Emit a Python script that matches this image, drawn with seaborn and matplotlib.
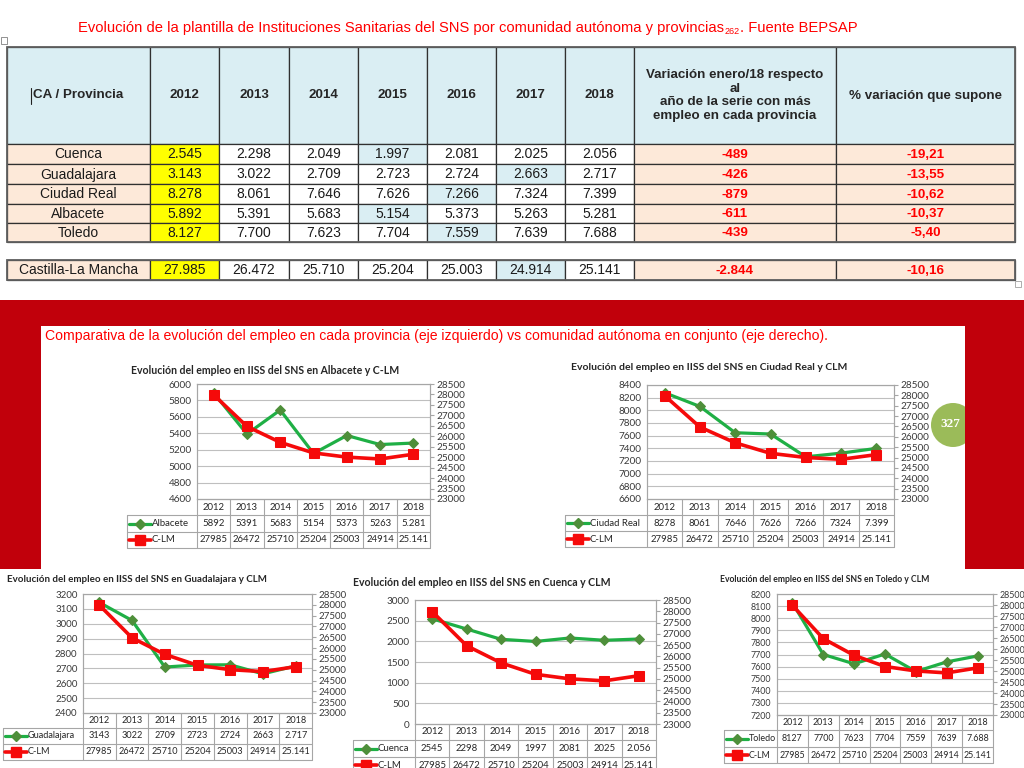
import numpy as np
import pandas as pd
import matplotlib
matplotlib.use("Agg")
import matplotlib.pyplot as plt
import seaborn as sns
from matplotlib.patches import Rectangle, Circle

# ---------------- data ----------------
years = [2012, 2013, 2014, 2015, 2016, 2017, 2018]
provinces = ["Cuenca", "Guadalajara", "Ciudad Real", "Albacete", "Toledo"]
cuenca = [2545, 2298, 2049, 1997, 2081, 2025, 2056]
guadalajara = [3143, 3022, 2709, 2723, 2724, 2663, 2717]
ciudad_real = [8278, 8061, 7646, 7626, 7266, 7324, 7399]
albacete = [5892, 5391, 5683, 5154, 5373, 5263, 5281]
toledo = [8127, 7700, 7623, 7704, 7559, 7639, 7688]
clm = [27985, 26472, 25710, 25204, 25003, 24914, 25141]
variacion = [-489, -426, -879, -611, -439]
pct_variacion = [-19.21, -13.55, -10.62, -10.37, -5.40]
clm_variacion = -2844
clm_pct = -10.16
clm_name = "Castilla-La Mancha"
clm_short = "C-LM"

title_main = "Evolución de la plantilla de Instituciones Sanitarias del SNS por comunidad autónoma y provincias"
title_sub = "262"
title_end = ". Fuente BEPSAP"
subtitle = ("Comparativa de la evolución del empleo en cada provincia (eje izquierdo) "
            "vs comunidad autónoma en conjunto (eje derecho).")
hdr_first = "CA / Provincia"
hdr_var = "Variación enero/18 respecto\nal\naño de la serie con más\nempleo en cada provincia"
hdr_pct = "% variación que supone"
page_no = "327"

# ---------------- style ----------------
sns.set_theme(style="white")
plt.rcParams["font.family"] = ["Liberation Sans", "DejaVu Sans"]
NARROW = ["Liberation Sans Narrow", "Liberation Sans", "DejaVu Sans"]
CAL = ["Lato", "DejaVu Sans"]

BLUE = "#DAEEF3"
PEACH = "#FDE9D9"
YELLOW = "#FFFF00"
RED_TXT = "#FF0000"
BAND = "#C1000B"
GREEN = "#1FAF45"
GREEN_M = "#4E8F3A"
RED = "#F50A0A"
GRID = "#BFBFBF"
TXT = "#262626"

W, H = 1024, 768
fig = plt.figure(figsize=(W / 100, H / 100), dpi=100)
fig.patch.set_facecolor("white")
bg = fig.add_axes([0, 0, 1, 1], zorder=0)
bg.set_xlim(0, W)
bg.set_ylim(H, 0)
bg.axis("off")


def rect(x0, y0, x1, y1, fc="none", ec="none", lw=0.8, z=1, **kw):
    bg.add_patch(Rectangle((x0, y0), x1 - x0, y1 - y0, facecolor=fc,
                           edgecolor=ec, linewidth=lw, zorder=z, **kw))


def miles(v):
    return f"{v:,}".replace(",", ".")


def pct(p):
    return f"{p:.2f}".replace(".", ",")


# ---------------- title ----------------
renderer = fig.canvas.get_renderer()
t1 = bg.text(78, 28, title_main, color=RED_TXT, fontsize=10.6, family=NARROW,
             ha="left", va="center")
ext = t1.get_window_extent(renderer)
t2 = bg.text(ext.x1 + 1, 31, title_sub, color=RED_TXT, fontsize=6.5, family=NARROW,
             ha="left", va="center")
ext2 = t2.get_window_extent(renderer)
bg.text(ext2.x1, 28, title_end, color=RED_TXT, fontsize=10.6, family=NARROW,
        ha="left", va="center")

# small handles
rect(1, 37, 7, 44, ec="#808080", lw=0.6, z=3)
rect(1015, 281, 1021, 287, ec="#A0A0A0", lw=0.6, z=3)

# ---------------- top table ----------------
col_x = [7, 150, 219, 289, 358, 427, 496, 565, 634, 836, 1015]
hdr_top, hdr_bot = 47, 144
row_edges = [144, 164, 184, 204, 223, 242]
clm_edges = [260, 280]
LINE = "#303030"

for j in range(len(col_x) - 1):
    rect(col_x[j], hdr_top, col_x[j + 1], hdr_bot, fc=BLUE, ec=LINE, lw=0.9, z=2)
hy = (hdr_top + hdr_bot) / 2
bg.text(33, hy, hdr_first, fontsize=9.6, fontweight="bold", ha="left", va="center", color=TXT, zorder=4)
bg.plot([31, 31], [hy - 8, hy + 8], color="#202020", lw=0.8, zorder=4)
for k, yr in enumerate(years):
    bg.text((col_x[k + 1] + col_x[k + 2]) / 2, hy, str(yr), fontsize=9.6, fontweight="bold",
            ha="center", va="center", color=TXT, zorder=4)
bg.text((col_x[8] + col_x[9]) / 2, hy, hdr_var, fontsize=9.6, fontweight="bold",
        ha="center", va="center", color=TXT, linespacing=1.15, zorder=4)
bg.text((col_x[9] + col_x[10]) / 2, hy, hdr_pct, fontsize=9.6, fontweight="bold",
        ha="center", va="center", color=TXT, zorder=4)


def table_row(y0, y1, name, vals, var, pv):
    yc = (y0 + y1) / 2 + 0.5
    imax, imin = int(np.argmax(vals)), int(np.argmin(vals))
    rect(col_x[0], y0, col_x[1], y1, fc=PEACH, ec=LINE, lw=0.9, z=2)
    bg.text((col_x[0] + col_x[1]) / 2, yc, name, fontsize=10, ha="center", va="center",
            color="#1a1a1a", zorder=4)
    for k, v in enumerate(vals):
        fc = YELLOW if k == imax else (BLUE if k == imin else "white")
        rect(col_x[k + 1], y0, col_x[k + 2], y1, fc=fc, ec=LINE, lw=0.9, z=2)
        bg.text((col_x[k + 1] + col_x[k + 2]) / 2, yc, miles(v), fontsize=10,
                ha="center", va="center", color="#1a1a1a", zorder=4)
    rect(col_x[8], y0, col_x[9], y1, fc=PEACH, ec=LINE, lw=0.9, z=2)
    rect(col_x[9], y0, col_x[10], y1, fc=PEACH, ec=LINE, lw=0.9, z=2)
    bg.text((col_x[8] + col_x[9]) / 2, yc, miles(var), fontsize=9.6, fontweight="bold",
            ha="center", va="center", color=RED_TXT, zorder=4)
    bg.text((col_x[9] + col_x[10]) / 2, yc, pct(pv), fontsize=9.6, fontweight="bold",
            ha="center", va="center", color=RED_TXT, zorder=4)


table_series = [cuenca, guadalajara, ciudad_real, albacete, toledo]
for i, (nm, vals) in enumerate(zip(provinces, table_series)):
    table_row(row_edges[i], row_edges[i + 1], nm, vals, variacion[i], pct_variacion[i])
table_row(clm_edges[0], clm_edges[1], clm_name, clm, clm_variacion, clm_pct)
rect(col_x[0], hdr_top, col_x[-1], row_edges[-1], ec="#606060", lw=1.3, z=3)
rect(col_x[0], clm_edges[0], col_x[-1], clm_edges[1], ec="#606060", lw=1.3, z=3)

# ---------------- red band ----------------
rect(0, 300, W, 569, fc=BAND, z=1)
rect(41, 326, 965, 569, fc="white", z=1.5)
bg.add_patch(Circle((953, 425), 22, facecolor="#9BBB59", edgecolor="none", zorder=1.7))
rect(965, 300, W, 569, fc=BAND, z=1.8)
bg.text(950, 424, page_no, fontsize=9.5, fontweight="bold", color="white",
        family=["Liberation Serif", "DejaVu Serif"], ha="center", va="center", zorder=1.9)
bg.text(45, 336, subtitle, color=RED_TXT, fontsize=10.05, family=NARROW,
        ha="left", va="center", zorder=3)

# ---------------- small charts ----------------
charts = [
    dict(name="Albacete", vals=albacete, title="Evolución del empleo en IISS del SNS en Albacete y C-LM",
         txy=(131, 370), tfs=7.6, box=(197, 384, 430, 499), leg=127, rows=(499, 515, 532, 548),
         ticks=(4600, 6000, 200), afs=7.2, cfs=6.9),
    dict(name="Ciudad Real", vals=ciudad_real, title="Evolución del empleo en IISS del SNS en Ciudad Real y CLM",
         txy=(571, 368), tfs=7.5, box=(647, 385, 894, 499), leg=565, rows=(499, 515, 531, 547),
         ticks=(6600, 8400, 200), afs=7.2, cfs=6.9),
    dict(name="Guadalajara", vals=guadalajara, title="Evolución del empleo en IISS del SNS en Guadalajara y CLM",
         txy=(7, 580), tfs=7.0, box=(83, 594, 312, 713), leg=3, rows=(713, 728, 744, 760),
         ticks=(2400, 3200, 100), afs=7.0, cfs=6.6),
    dict(name="Cuenca", vals=cuenca, title="Evolución del empleo en IISS del SNS en Cuenca y CLM",
         txy=(353, 583), tfs=7.6, box=(415, 600, 656, 724), leg=353, rows=(724, 740, 757, 773),
         ticks=(0, 3000, 500), afs=7.2, cfs=6.9),
    dict(name="Toledo", vals=toledo, title="Evolución del empleo en IISS del SNS en Toledo y CLM",
         txy=(720, 580), tfs=6.25, box=(777, 594, 993, 715), leg=724, rows=(715, 730, 747, 763),
         ticks=(7200, 8200, 100), afs=6.4, cfs=6.4),
]

for c in charts:
    l, t, r, b = c["box"]
    afs, cfs = c["afs"], c["cfs"]
    ax = fig.add_axes([l / W, 1 - b / H, (r - l) / W, (b - t) / H], zorder=2)
    ax.set_facecolor("white")
    lo, hi, st = c["ticks"]
    df_p = pd.DataFrame({"year": years, "val": c["vals"]})
    df_c = pd.DataFrame({"year": years, "val": clm})
    sns.lineplot(data=df_p, x="year", y="val", ax=ax, color=GREEN, lw=2.3, marker="D",
                 markersize=5, markerfacecolor=GREEN_M, markeredgecolor=GREEN_M, zorder=3)
    ax.set_xlim(2011.5, 2018.5)
    ax.set_ylim(lo, hi)
    ax.set_yticks(np.arange(lo, hi + st / 2, st))
    ax.set_xticks([])
    ax.set_xlabel("")
    ax.set_ylabel("")
    ax.yaxis.grid(True, color=GRID, lw=0.8)
    ax.set_axisbelow(True)
    ax.tick_params(axis="y", length=0, pad=4, labelsize=afs, labelcolor="#3a3a3a")
    for lab in ax.get_yticklabels():
        lab.set_family(CAL)
    for sp in ax.spines.values():
        sp.set_color("#A6A6A6")
        sp.set_linewidth(0.8)
    ax2 = ax.twinx()
    sns.lineplot(data=df_c, x="year", y="val", ax=ax2, color=RED, lw=2.6, marker="s",
                 markersize=6.5, markerfacecolor=RED, markeredgecolor=RED, zorder=4)
    ax2.set_ylim(23000, 28500)
    ax2.set_yticks(np.arange(23000, 28501, 500))
    ax2.set_xlim(2011.5, 2018.5)
    ax2.set_ylabel("")
    ax2.tick_params(axis="y", length=3, width=0.8, color="#A6A6A6", direction="out",
                    pad=2, labelsize=afs, labelcolor="#3a3a3a")
    for lab in ax2.get_yticklabels():
        lab.set_family(CAL)
    for sp in ax2.spines.values():
        sp.set_color("#A6A6A6")
        sp.set_linewidth(0.8)

    # title
    bg.text(c["txy"][0], c["txy"][1], c["title"], fontsize=c["tfs"], fontweight="bold",
            family=CAL, color=TXT, ha="left", va="center", zorder=3)

    # data table
    y0, y1, y2, y3 = c["rows"]
    xs = np.linspace(l, r, len(years) + 1)
    lc = "#A6A6A6"
    bg.plot([l, r], [y0, y0], color=lc, lw=0.8, zorder=3)
    for yy in (y1, y2, y3):
        bg.plot([c["leg"], r], [yy, yy], color=lc, lw=0.8, zorder=3)
    for xx in xs:
        bg.plot([xx, xx], [y0, y3], color=lc, lw=0.8, zorder=3)
    bg.plot([c["leg"], c["leg"]], [y1, y3], color=lc, lw=0.8, zorder=3)
    cx = (xs[:-1] + xs[1:]) / 2
    p_labels = [str(v) for v in c["vals"][:-1]] + [miles(c["vals"][-1])]
    c_labels = [str(v) for v in clm[:-1]] + [miles(clm[-1])]
    for k in range(len(years)):
        bg.text(cx[k], (y0 + y1) / 2, str(years[k]), fontsize=cfs, family=CAL, color=TXT,
                ha="center", va="center", zorder=3)
        bg.text(cx[k], (y1 + y2) / 2, p_labels[k], fontsize=cfs, family=CAL, color=TXT,
                ha="center", va="center", zorder=3)
        bg.text(cx[k], (y2 + y3) / 2, c_labels[k], fontsize=cfs, family=CAL, color=TXT,
                ha="center", va="center", zorder=3)
    lx = c["leg"] + 2
    ll = 22
    ym = (y1 + y2) / 2
    bg.plot([lx, lx + ll], [ym, ym], color=GREEN, lw=2.3, zorder=3)
    bg.plot([lx + ll / 2], [ym], marker="D", markersize=5, color=GREEN_M, zorder=4)
    bg.text(lx + ll + 1, ym, c["name"], fontsize=cfs, family=CAL, color=TXT,
            ha="left", va="center", zorder=3)
    ym = (y2 + y3) / 2
    bg.plot([lx, lx + ll], [ym, ym], color=RED, lw=2.6, zorder=3)
    bg.plot([lx + ll / 2], [ym], marker="s", markersize=6.5, color=RED, zorder=4)
    bg.text(lx + ll + 1, ym, clm_short, fontsize=cfs, family=CAL, color=TXT,
            ha="left", va="center", zorder=3)

fig.savefig("out.png", dpi=100, facecolor="white")
